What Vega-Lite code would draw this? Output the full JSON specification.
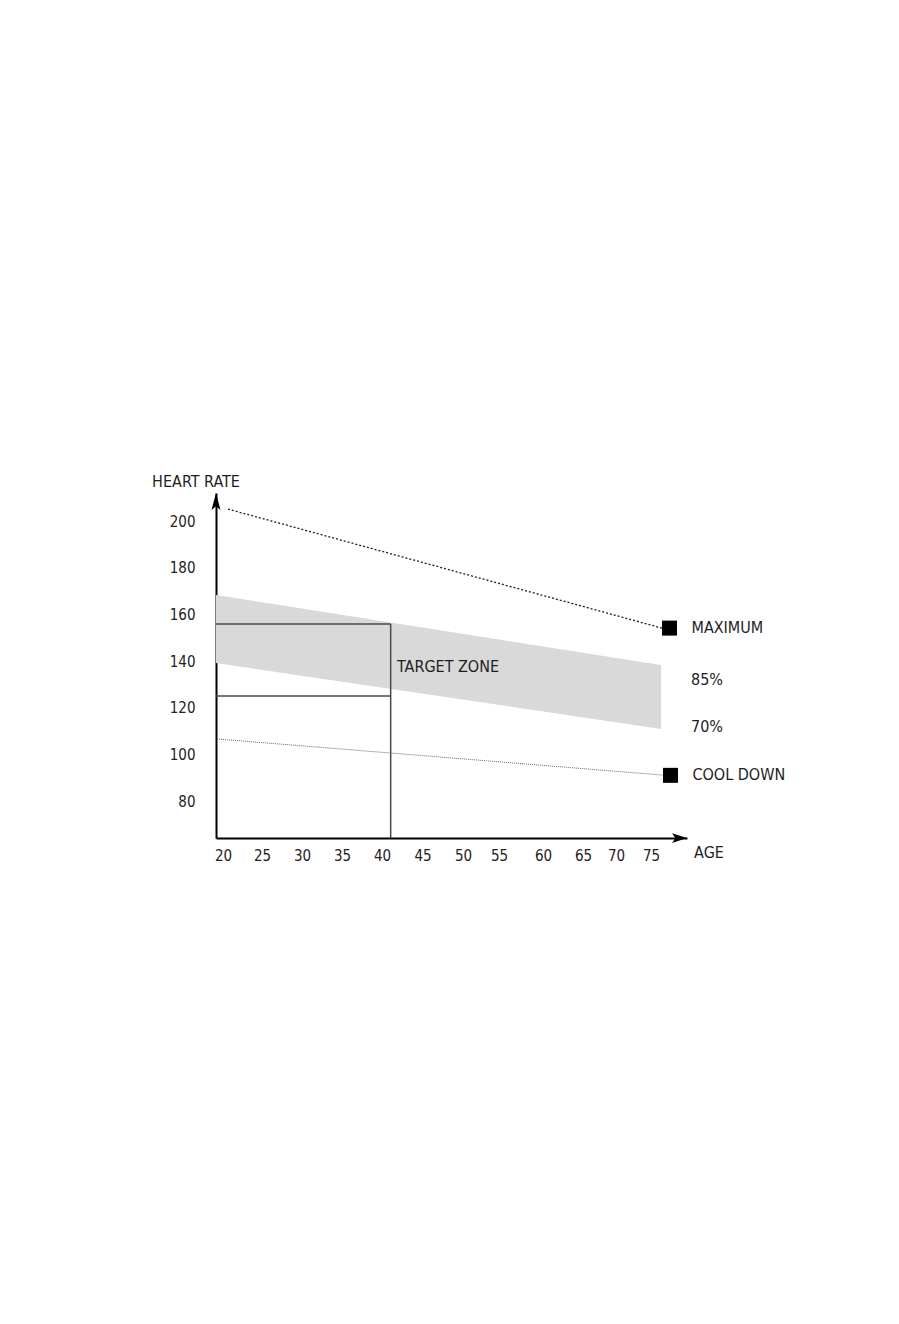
{
  "$schema": "https://vega.github.io/schema/vega-lite/v6.json",
  "width": 471,
  "height": 345,
  "autosize": {"type": "none"},
  "padding": {"left": 216, "top": 493, "right": 212, "bottom": 486},
  "background": "white",
  "config": {
    "view": {"stroke": null},
    "font": "DejaVu Sans Condensed, Roboto, sans-serif",
    "text": {"font": "DejaVu Sans Condensed, Roboto, sans-serif", "color": "#1e1e1e"}
  },
  "datasets": {
    "band": [
      {"age": 19.1, "hi": 168.3, "lo": 139.1},
      {"age": 76.42, "hi": 138.3, "lo": 110.9}
    ],
    "curves": [
      {"series": "MAXIMUM", "age": 20.64, "hr": 205.1},
      {"series": "MAXIMUM", "age": 76.56, "hr": 154.1},
      {"series": "COOL DOWN", "age": 19.23, "hr": 106.6},
      {"series": "COOL DOWN", "age": 76.7, "hr": 91.1}
    ],
    "markers": [
      {"series": "MAXIMUM", "age": 77.62, "hr": 154.1},
      {"series": "COOL DOWN", "age": 77.76, "hr": 91.0}
    ],
    "zoneBox": [
      {"age": 19.1, "age2": 41.07, "hr": 155.9, "hr2": 155.9},
      {"age": 19.1, "age2": 41.07, "hr": 125.0, "hr2": 125.0},
      {"age": 41.07, "age2": 41.07, "hr": 155.9, "hr2": 64.15}
    ],
    "notes": [
      {"label": "TARGET ZONE", "age": 41.85, "hr": 137.4},
      {"label": "85%", "age": 80.67, "hr": 131.9},
      {"label": "70%", "age": 80.67, "hr": 111.7}
    ],
    "upArrow": [{"age": 19.1, "hr": 212}],
    "rightArrow": [{"age": 80.1, "hr": 64.15}]
  },
  "encoding": {
    "x": {
      "field": "age",
      "type": "quantitative",
      "scale": {
        "domain": [19.1, 20, 25, 30, 35, 40, 45, 50, 55, 60, 65, 70, 75, 80.1],
        "range": [0, 7, 46, 86, 126, 166, 206.5, 247, 283, 327, 367, 400, 435, 471],
        "nice": false,
        "zero": false
      },
      "axis": {
        "values": [20, 25, 30, 35, 40, 45, 50, 55, 60, 65, 70, 75],
        "grid": false,
        "ticks": false,
        "tickSize": 0,
        "labelPadding": 17,
        "labelBaseline": "middle",
        "labelFont": "DejaVu Sans Condensed, Roboto, sans-serif",
        "labelFontSize": 15,
        "labelColor": "#222222",
        "labelOverlap": false,
        "labelFlush": false,
        "labelBound": false,
        "domainColor": "#000000",
        "domainWidth": 2,
        "title": "AGE",
        "titleFont": "DejaVu Sans Condensed, Roboto, sans-serif",
        "titleFontSize": 16,
        "titleFontWeight": "normal",
        "titleColor": "#1e1e1e",
        "titleX": 492.5,
        "titleY": 14,
        "titleAlign": "center",
        "titleBaseline": "middle"
      }
    },
    "y": {
      "field": "hr",
      "type": "quantitative",
      "scale": {"domain": [64.15, 212], "nice": false, "zero": false},
      "axis": {
        "values": [80, 100, 120, 140, 160, 180, 200],
        "grid": false,
        "ticks": false,
        "tickSize": 0,
        "labelPadding": 21,
        "labelFont": "DejaVu Sans Condensed, Roboto, sans-serif",
        "labelFontSize": 15,
        "labelColor": "#222222",
        "labelOverlap": false,
        "labelBound": false,
        "domainColor": "#000000",
        "domainWidth": 2,
        "title": "HEART RATE",
        "titleFont": "DejaVu Sans Condensed, Roboto, sans-serif",
        "titleFontSize": 16,
        "titleFontWeight": "normal",
        "titleColor": "#1e1e1e",
        "titleAngle": 0,
        "titleX": -20.5,
        "titleY": -12,
        "titleAlign": "center",
        "titleBaseline": "middle"
      }
    }
  },
  "layer": [
    {
      "data": {"name": "band"},
      "mark": {"type": "area", "color": "#d9d9d9", "opacity": 1},
      "encoding": {"y": {"field": "hi", "type": "quantitative"}, "y2": {"field": "lo"}}
    },
    {
      "data": {"name": "zoneBox"},
      "mark": {"type": "rule", "color": "#4a4a4a", "strokeWidth": 1.5},
      "encoding": {"x2": {"field": "age2"}, "y2": {"field": "hr2"}}
    },
    {
      "data": {"name": "curves"},
      "transform": [{"filter": "datum.series == 'MAXIMUM'"}],
      "mark": {"type": "line", "color": "#1e1e1e", "strokeWidth": 1.3, "strokeDash": [2, 2]},
      "encoding": {"detail": {"field": "series"}}
    },
    {
      "data": {"name": "curves"},
      "transform": [{"filter": "datum.series == 'COOL DOWN'"}],
      "mark": {"type": "line", "color": "#6a6a6a", "strokeWidth": 1, "strokeDash": [1, 1]},
      "encoding": {"detail": {"field": "series"}}
    },
    {
      "data": {"name": "markers"},
      "mark": {"type": "square", "color": "#000000", "filled": true, "size": 225, "opacity": 1}
    },
    {
      "data": {"name": "markers"},
      "mark": {"type": "text", "align": "left", "baseline": "middle", "dx": 22, "fontSize": 16},
      "encoding": {"text": {"field": "series"}}
    },
    {
      "data": {"name": "notes"},
      "mark": {"type": "text", "align": "left", "baseline": "middle", "fontSize": 16},
      "encoding": {"text": {"field": "label"}}
    },
    {
      "data": {"name": "upArrow"},
      "mark": {"type": "point", "shape": "M0,0 L0.53,2 L0,1.55 L-0.53,2 Z", "filled": true, "color": "#000000", "size": 289, "opacity": 1, "strokeWidth": 0}
    },
    {
      "data": {"name": "rightArrow"},
      "mark": {"type": "point", "shape": "M0,0 L-2,-0.65 L-1.55,0 L-2,0.65 Z", "filled": true, "color": "#000000", "size": 225, "opacity": 1, "strokeWidth": 0}
    }
  ]
}
